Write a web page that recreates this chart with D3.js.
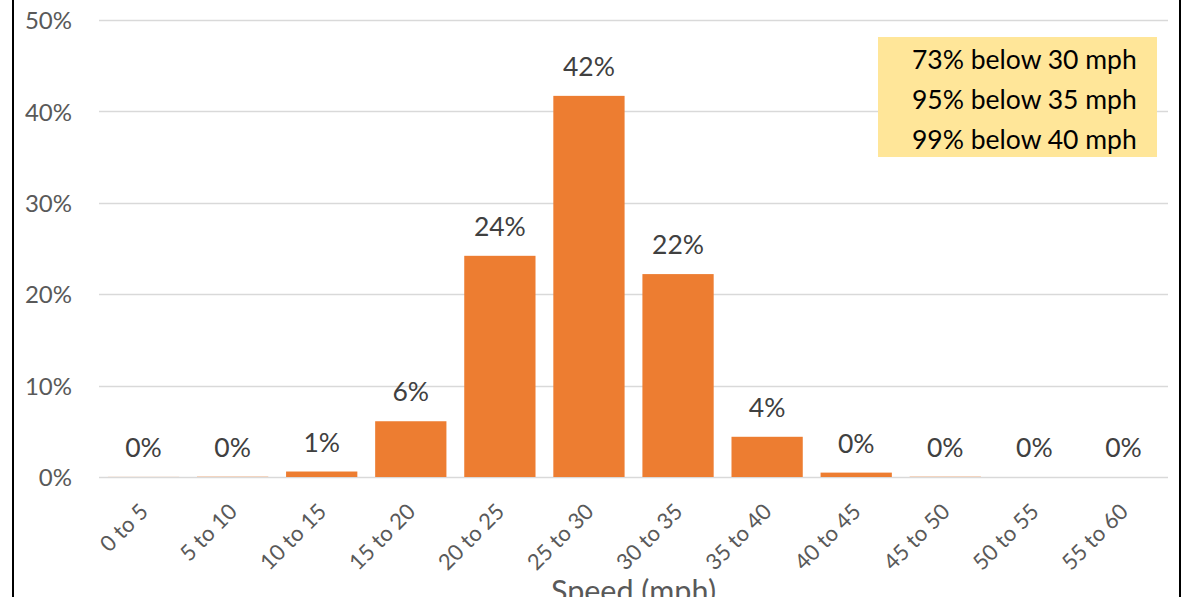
<!DOCTYPE html>
<html>
<head>
<meta charset="utf-8">
<script src="https://cdn.jsdelivr.net/npm/d3@7"></script>
<style>
  html, body { margin: 0; padding: 0; background: #fff; }
  svg { display: block; }
  text { font-family: Lato, "Open Sans", sans-serif; }
</style>
</head>
<body>
<svg id="chart" width="1197" height="597"></svg>
<script>
// Speed bins (mph) and share of vehicles in each bin
const categories = ["0 to 5", "5 to 10", "10 to 15", "15 to 20", "20 to 25", "25 to 30",
                    "30 to 35", "35 to 40", "40 to 45", "45 to 50", "50 to 55", "55 to 60"];
const shares = [0.0001, 0.0003, 0.006, 0.061, 0.242, 0.417, 0.222, 0.044, 0.0048, 0.0003, 0, 0];
const yTicks = [0, 0.1, 0.2, 0.3, 0.4, 0.5];
const notes = ["73% below 30 mph", "95% below 35 mph", "99% below 40 mph"];
const xTitle = "Speed (mph)";

const svg = d3.select("#chart");
const W = 1197, H = 597;
const plot = { left: 99, right: 1168, top: 20, bottom: 477 };

// outer frame of the chart object
svg.append("rect")
  .attr("x", 13).attr("y", -10)
  .attr("width", 1167).attr("height", H + 20)
  .attr("fill", "none").attr("stroke", "#000").attr("stroke-width", 2);

const x = d3.scaleBand().domain(categories)
  .range([plot.left, plot.right]).paddingInner(0.2).paddingOuter(0.1);
const y = d3.scaleLinear().domain([0, 0.5]).range([plot.bottom, plot.top]);
const pct = d3.format(".0%");

// horizontal gridlines
svg.append("g")
  .selectAll("line").data(yTicks).join("line")
  .attr("x1", plot.left).attr("x2", plot.right)
  .attr("y1", d => Math.round(y(d)) + 0.5).attr("y2", d => Math.round(y(d)) + 0.5)
  .attr("stroke", "#d9d9d9").attr("stroke-width", 1.5);

// y tick labels
const yAxis = d3.axisLeft(y).tickValues(yTicks).tickFormat(pct).tickSize(0).tickPadding(0);
const gy = svg.append("g").attr("transform", `translate(72,0)`).call(yAxis);
gy.select(".domain").remove();
gy.selectAll("text")
  .attr("fill", "#595959").attr("font-size", 24).attr("dy", "0.36em")
  .style("font-family", "Lato, 'Open Sans', sans-serif");

// bars
svg.append("g")
  .selectAll("rect").data(shares).join("rect")
  .attr("x", (d, i) => x(categories[i]))
  .attr("width", x.bandwidth())
  .attr("y", d => y(d))
  .attr("height", d => y(0) - y(d))
  .attr("fill", "#ed7d31");

// value labels above bars
svg.append("g")
  .selectAll("text").data(shares).join("text")
  .attr("x", (d, i) => x(categories[i]) + x.bandwidth() / 2)
  .attr("y", d => y(d) - 20)
  .attr("text-anchor", "middle")
  .attr("font-size", 26.5)
  .attr("fill", "#404040")
  .text(d => pct(d));

// x axis category labels, rotated
const xAxis = d3.axisBottom(x).tickSize(0).tickPadding(0);
const gx = svg.append("g").attr("transform", `translate(0,${plot.bottom})`).call(xAxis);
gx.select(".domain").remove();
gx.selectAll("text")
  .attr("fill", "#595959").attr("font-size", 22)
  .attr("text-anchor", "end")
  .attr("dy", null).attr("y", 0)
  .attr("transform", "translate(6,36) rotate(-45)")
  .style("font-family", "Lato, 'Open Sans', sans-serif");

// axis title
svg.append("text")
  .attr("x", (plot.left + plot.right) / 2).attr("y", 602)
  .attr("text-anchor", "middle").attr("font-size", 30.5).attr("fill", "#595959")
  .text(xTitle);

// summary callout
const box = svg.append("g");
box.append("rect")
  .attr("x", 878).attr("y", 37).attr("width", 279).attr("height", 120)
  .attr("fill", "#ffe699");
box.selectAll("text").data(notes).join("text")
  .attr("x", 912).attr("y", (d, i) => 69 + i * 40)
  .attr("font-size", 26.5).attr("fill", "#000")
  .text(d => d);
</script>
</body>
</html>
